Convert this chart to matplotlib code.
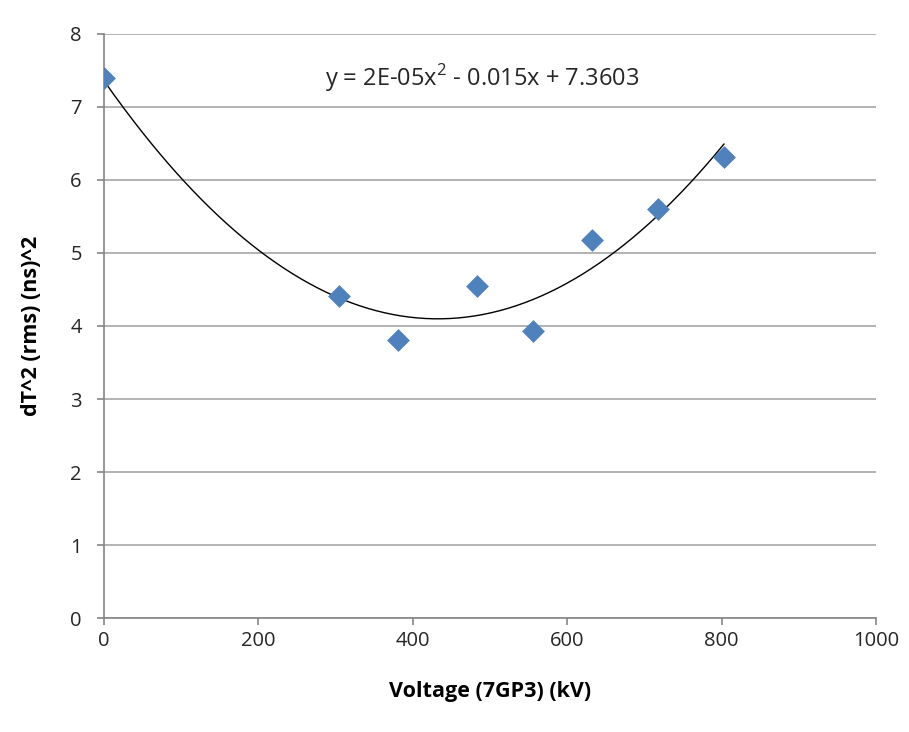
import numpy as np
import matplotlib
matplotlib.use("Agg")
import matplotlib.pyplot as plt

plt.rcParams['font.family'] = ['Open Sans', 'DejaVu Sans']
plt.rcParams['mathtext.fontset'] = 'custom'
plt.rcParams['mathtext.rm'] = 'Open Sans'

voltage = [0, 304, 381, 483, 556, 632, 718, 803]
dt2 = [7.40, 4.41, 3.81, 4.55, 3.93, 5.18, 5.60, 6.32]
x_ticks = [0, 200, 400, 600, 800, 1000]
y_ticks = [0, 1, 2, 3, 4, 5, 6, 7, 8]
equation = "y = 2E-05x$^{\\mathrm{2}}$ - 0.015x + 7.3603"

fig = plt.figure(figsize=(9.09, 7.32), dpi=100)
ax = fig.add_axes([0.1144, 0.1557, 0.8493, 0.7979])

coef = np.polyfit(voltage, dt2, 2)
xs = np.linspace(min(voltage), max(voltage), 300)
ax.plot(xs, np.polyval(coef, xs), color='black', lw=1.0, zorder=3)
ax.scatter(voltage, dt2, marker='D', s=135, color='#4F81BD', zorder=4, linewidths=0)

ax.set_xlim(0, 1000)
ax.set_ylim(0, 8)
ax.set_xticks(x_ticks)
ax.set_yticks(y_ticks)
ax.grid(axis='y', color='#A6A6A6', lw=1.2)
ax.set_axisbelow(True)
for s in ['top', 'right']:
    ax.spines[s].set_visible(False)
for s in ['left', 'bottom']:
    ax.spines[s].set_color('#868686')
    ax.spines[s].set_linewidth(1.2)
ax.tick_params(axis='both', colors='#868686', labelcolor='#262626', labelsize=14.5, length=5, width=1.2)
ax.tick_params(axis='x', pad=4)
ax.tick_params(axis='y', pad=11)

ax.set_xlabel('Voltage (7GP3) (kV)', fontsize=15.5, fontweight='bold', labelpad=22)
ax.set_ylabel('dT^2 (rms) (ns)^2', fontsize=15.5, fontweight='bold', labelpad=20)

ax.text(490, 7.4, equation, ha='center', va='center', fontsize=17, color='#262626')

fig.savefig('out.png', dpi=100, facecolor='white')
